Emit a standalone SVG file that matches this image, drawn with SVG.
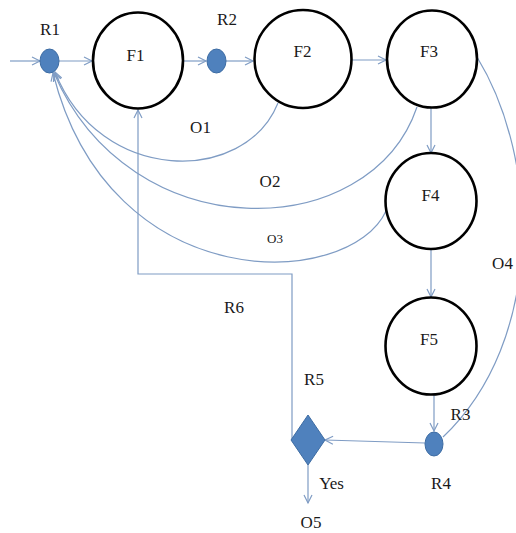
<svg xmlns="http://www.w3.org/2000/svg" width="516" height="533" viewBox="0 0 516 533">
  <defs>
    <marker id="arrow" markerUnits="userSpaceOnUse" markerWidth="12" markerHeight="12" refX="9" refY="5" orient="auto">
      <path d="M1,1 L9,5 L1,9" fill="none" stroke="#7f9cc4" stroke-width="1.2"/>
    </marker>
  </defs>
  <style>
    .bg { fill: #ffffff; }
    .func { fill: #ffffff; stroke: #000000; stroke-width: 2.6; }
    .res { fill: #4f81bd; stroke: #3d6ca3; stroke-width: 1; }
    .conn { fill: none; stroke: #7f9cc4; stroke-width: 1.2; }
    .arr { marker-end: url(#arrow); }
    .lbl { font-size: 17px; fill: #1a1a1a; text-anchor: middle; }
    .small { font-size: 13px; }
  </style>
  <rect class="bg" x="0" y="0" width="516" height="533"/>

  <!-- connectors -->
  <g id="connectors">
    <path class="conn arr" d="M10,61 L40,61"/>
    <path class="conn arr" d="M59,61 L92,61"/>
    <path class="conn arr" d="M183,61 L206,61"/>
    <path class="conn arr" d="M226,61 L253,61"/>
    <path class="conn arr" d="M352,60 L386,60"/>
    <path class="conn arr" d="M431,108 L431,153"/>
    <path class="conn arr" d="M431,250 L431,297"/>
    <path class="conn arr" d="M434,395 L434,431"/>
    <path class="conn arr" d="M425,443 L325,440"/>
    <path class="conn arr" d="M308,465 L308,503"/>
    <!-- O1, O2, O3 feedback to R1 -->
    <path class="conn arr" d="M278,103 C245,185 100,185 55,72"/>
    <path class="conn arr" d="M417,107 C370,245 130,250 54,73"/>
    <path class="conn arr" d="M386,211 C350,290 110,300 53,73"/>
    <!-- O4 from F3 to R4 -->
    <path class="conn" d="M477,57 C540,160 545,340 443,437"/>
    <!-- R6 from R5 back to F1 -->
    <path class="conn arr" d="M292,440 L292,274 L138,274 L138,110"/>
  </g>

  <!-- resource nodes -->
  <g id="R1"><ellipse class="res" cx="49.5" cy="61" rx="9.5" ry="12"/></g>
  <g id="R2"><ellipse class="res" cx="216.5" cy="61" rx="9.5" ry="12"/></g>
  <g id="R4"><ellipse class="res" cx="434" cy="444" rx="9" ry="12"/></g>
  <g id="R5"><polygon class="res" points="308,415 325,440 308,465 291,440"/></g>

  <g font-family="Liberation Serif, Times New Roman, DejaVu Serif, serif">
    <!-- function nodes -->
    <g id="F1"><ellipse class="func" cx="138" cy="60.5" rx="45" ry="48"/><text class="lbl" x="135.5" y="61">F1</text></g>
    <g id="F2"><ellipse class="func" cx="303" cy="59" rx="48.5" ry="49"/><text class="lbl" x="302.5" y="57">F2</text></g>
    <g id="F3"><ellipse class="func" cx="432" cy="59" rx="45" ry="48.5"/><text class="lbl" x="429" y="57">F3</text></g>
    <g id="F4"><ellipse class="func" cx="431" cy="201" rx="45.5" ry="48"/><text class="lbl" x="430.5" y="201">F4</text></g>
    <g id="F5"><ellipse class="func" cx="431" cy="346" rx="45.5" ry="48.5"/><text class="lbl" x="429" y="345">F5</text></g>

    <!-- labels -->
    <g id="labels">
      <text class="lbl" x="50" y="35">R1</text>
      <text class="lbl" x="227" y="25">R2</text>
      <text class="lbl" x="200.5" y="133">O1</text>
      <text class="lbl" x="270" y="187">O2</text>
      <text class="lbl small" x="275" y="243">O3</text>
      <text class="lbl" x="502.5" y="269">O4</text>
      <text class="lbl" x="234" y="313">R6</text>
      <text class="lbl" x="314" y="385">R5</text>
      <text class="lbl" x="460.5" y="420">R3</text>
      <text class="lbl" x="441" y="489">R4</text>
      <text class="lbl" x="331.5" y="489">Yes</text>
      <text class="lbl" x="311" y="528">O5</text>
    </g>
  </g>
</svg>
